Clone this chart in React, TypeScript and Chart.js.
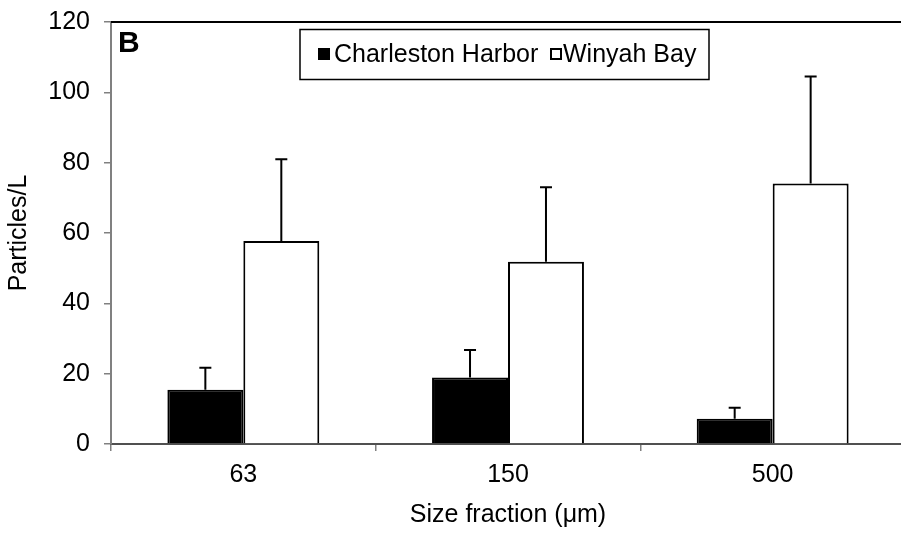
import React, { useEffect, useRef } from "react";
import { Chart, registerables } from "chart.js";

Chart.register(...registerables);

const categories = ["63", "150", "500"];
const seriesNames = ["Charleston Harbor", "Winyah Bay"];
const charleston = [15.4, 18.9, 7.2];
const charlestonErr = [6.3, 7.8, 3.1];
const winyah = [57.7, 51.8, 74.1];
const winyahErr = [23.3, 21.2, 30.4];
const yTicks = [0, 20, 40, 60, 80, 100, 120];
const panelLabel = "B";
const xTitle = "Size fraction (\u03BCm)";
const yTitle = "Particles/L";

const FONT = "'Liberation Sans', Arial, sans-serif";

const errorBars = {
  id: "errorBars",
  afterDatasetsDraw(chart: any) {
    const ctx = chart.ctx;
    const ys = chart.scales.y;
    chart.data.datasets.forEach((ds: any, di: number) => {
      const meta = chart.getDatasetMeta(di);
      meta.data.forEach((el: any, i: number) => {
        const v = ds.data[i];
        const e = ds.errors[i];
        const yTop = ys.getPixelForValue(v + e);
        ctx.save();
        ctx.strokeStyle = "#000";
        ctx.lineWidth = 2;
        ctx.beginPath();
        ctx.moveTo(el.x, el.y);
        ctx.lineTo(el.x, yTop);
        ctx.moveTo(el.x - 6, yTop);
        ctx.lineTo(el.x + 6, yTop);
        ctx.stroke();
        ctx.restore();
      });
    });
  },
};

const decorations = {
  id: "decorations",
  afterDraw(chart: any) {
    const ctx = chart.ctx;
    const ca = chart.chartArea;
    ctx.save();
    // top frame line
    ctx.strokeStyle = "#000";
    ctx.lineWidth = 2;
    ctx.beginPath();
    ctx.moveTo(ca.left, ca.top);
    ctx.lineTo(ca.right, ca.top);
    ctx.stroke();
    // panel label
    ctx.fillStyle = "#000";
    ctx.font = `bold 30px ${FONT}`;
    ctx.textBaseline = "alphabetic";
    ctx.textAlign = "left";
    ctx.fillText(panelLabel, 118, 52);
    // legend box
    const bx = 300, by = 29.5, bw = 409, bh = 50;
    ctx.lineWidth = 1.5;
    ctx.strokeRect(bx, by, bw, bh);
    ctx.font = `25px ${FONT}`;
    ctx.textBaseline = "alphabetic";
    const base = 61.5;
    // item 1
    ctx.fillStyle = "#000";
    ctx.fillRect(318, 48, 12, 12);
    ctx.fillText(seriesNames[0], 334, base);
    // item 2
    ctx.fillStyle = "#fff";
    ctx.fillRect(551, 49, 10, 10);
    ctx.strokeStyle = "#000";
    ctx.lineWidth = 2;
    ctx.strokeRect(551, 49, 10, 10);
    ctx.fillStyle = "#000";
    ctx.fillText(seriesNames[1], 563, base);
    ctx.restore();
  },
};

export default function App() {
  const ref = useRef<HTMLCanvasElement>(null);
  useEffect(() => {
    if (!ref.current) return;
    const chart = new Chart(ref.current, {
      type: "bar",
      data: {
        labels: categories,
        datasets: [
          {
            label: seriesNames[0],
            data: charleston,
            errors: charlestonErr,
            backgroundColor: "#000",
            borderColor: "#000",
            borderWidth: 2,
            categoryPercentage: 0.574,
            barPercentage: 1.0,
          } as any,
          {
            label: seriesNames[1],
            data: winyah,
            errors: winyahErr,
            backgroundColor: "#fff",
            borderColor: "#000",
            borderWidth: 2,
            categoryPercentage: 0.574,
            barPercentage: 1.0,
          } as any,
        ],
      },
      options: {
        animation: false,
        responsive: false,
        devicePixelRatio: 1,
        layout: { padding: { top: 22, right: 1, left: 0, bottom: 0 } },
        plugins: {
          legend: { display: false },
          tooltip: { enabled: false },
        },
        scales: {
          x: {
            type: "category",
            offset: true,
            grid: {
              offset: true,
              drawOnChartArea: false,
              drawTicks: true,
              tickLength: 7,
              color: "#808080",
              lineWidth: 1.5,
            },
            border: { color: "#505050", width: 2 },
            ticks: {
              color: "#000",
              font: { family: FONT, size: 25 },
              padding: 9,
            },
            title: {
              display: true,
              text: xTitle,
              color: "#000",
              font: { family: FONT, size: 25 },
              padding: { top: 4, bottom: 5 },
            },
            afterFit: (s: any) => {
              s.height = 91;
              s.paddingLeft = 0;
              s.paddingRight = 0;
            },
          },
          y: {
            min: 0,
            max: 120,
            afterBuildTicks: (s: any) => {
              s.ticks = yTicks.map((v) => ({ value: v }));
            },
            grid: {
              drawOnChartArea: false,
              drawTicks: true,
              tickLength: 7,
              color: "#808080",
              lineWidth: 1.5,
            },
            border: { color: "#808080", width: 2 },
            ticks: {
              color: "#000",
              font: { family: FONT, size: 25 },
              padding: 14,
            },
            title: {
              display: true,
              text: yTitle,
              color: "#000",
              font: { family: FONT, size: 25 },
              padding: { top: 4, bottom: 4 },
            },
            afterFit: (s: any) => {
              s.width = 111;
              s.paddingTop = 0;
              s.paddingBottom = 0;
            },
          },
        },
      },
      plugins: [errorBars, decorations],
    });
    return () => chart.destroy();
  }, []);
  return (
    <div
      style={{
        position: "fixed",
        left: 0,
        top: 0,
        width: 901,
        height: 535,
        overflow: "hidden",
        background: "#fff",
      }}
    >
      <canvas ref={ref} width={906} height={535} style={{ width: 906, height: 535, display: "block" }} />
    </div>
  );
}
